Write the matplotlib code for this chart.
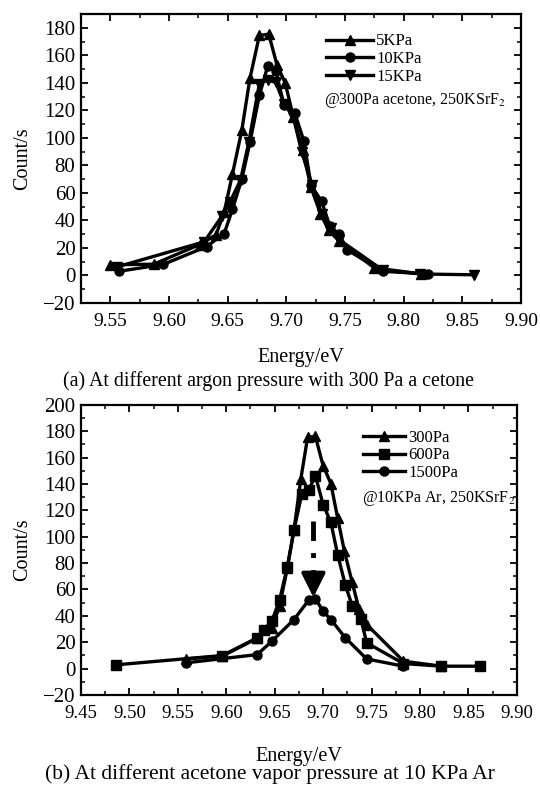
import numpy as np
import matplotlib
matplotlib.use("Agg")
import matplotlib.pyplot as plt
from matplotlib.ticker import MultipleLocator

plt.rcParams['font.family'] = ['Liberation Serif', 'DejaVu Serif']
plt.rcParams['mathtext.fontset'] = 'stix'

# (a) different argon pressure, 300 Pa acetone
x_5k = [9.550, 9.587, 9.626, 9.640, 9.647, 9.654, 9.662, 9.669, 9.677, 9.685,
        9.692, 9.699, 9.706, 9.714, 9.721, 9.729, 9.736, 9.745, 9.775, 9.815]
y_5k = [7.8, 8.2, 22.5, 29.5, 46, 73.5, 105.5, 143.5, 174.5, 175.5,
        153, 140, 115, 91, 64, 45, 33, 25, 5.5, 1.2]
x_10k = [9.557, 9.595, 9.632, 9.647, 9.654, 9.662, 9.669, 9.677, 9.684, 9.691,
         9.698, 9.707, 9.715, 9.721, 9.730, 9.737, 9.745, 9.752, 9.782, 9.821]
y_10k = [3, 8, 21, 30.5, 48, 70, 97, 131, 152, 148.5,
         124, 118.5, 97.5, 65.5, 54, 36, 30, 18.5, 3, 1.2]
x_15k = [9.556, 9.630, 9.645, 9.652, 9.661, 9.668, 9.677, 9.684, 9.691,
         9.698, 9.706, 9.713, 9.722, 9.730, 9.738, 9.745, 9.782, 9.814, 9.860]
y_15k = [6.3, 24.5, 43, 53.5, 69.5, 97, 139.5, 142, 140.5,
         125, 115, 90, 65.5, 45, 34.5, 26, 4, 1.1, 0.5]

# (b) different acetone pressure, 10 KPa Ar
x_300 = [9.558, 9.596, 9.632, 9.647, 9.655, 9.663, 9.670, 9.677, 9.684, 9.692,
         9.700, 9.708, 9.715, 9.722, 9.730, 9.737, 9.745, 9.783, 9.822]
y_300 = [7.3, 9.5, 23, 30.8, 47.3, 76, 105.4, 143.8, 175.4, 176.2,
         154, 140.3, 114.3, 89, 65.5, 45.3, 33.4, 5.6, 1.8]
x_600 = [9.486, 9.596, 9.632, 9.639, 9.647, 9.655, 9.663, 9.670, 9.678, 9.685,
         9.692, 9.700, 9.708, 9.715, 9.723, 9.730, 9.739, 9.745, 9.783, 9.822, 9.862]
y_600 = [2.8, 9.9, 23.3, 29.6, 35.9, 51.8, 76.9, 105.4, 132.5, 135.2,
         146.4, 124.4, 111, 86.5, 63.2, 47.8, 37.7, 19.5, 3.8, 1.8, 1.8]
x_1500 = [9.558, 9.632, 9.647, 9.670, 9.685, 9.692, 9.700, 9.708, 9.723, 9.745, 9.783]
y_1500 = [4.3, 10.6, 20.7, 37.2, 51.8, 53.1, 43.5, 37.2, 23.3, 7.3, 1.8]

arrow_x = 9.690
arrow_top, arrow_mid, arrow_tip = 112, 69, 54

fig = plt.figure(figsize=(5.4, 7.87), dpi=100)
ax1 = fig.add_axes([0.150, 0.615, 0.815, 0.367])
ax2 = fig.add_axes([0.150, 0.117, 0.807, 0.3685])

lw, ms = 2.4, 6.5
ax1.plot(x_5k, y_5k, 'k-', marker='^', lw=lw, ms=ms, label='5KPa')
ax1.plot(x_10k, y_10k, 'k-', marker='o', lw=lw, ms=ms, label='10KPa')
ax1.plot(x_15k, y_15k, 'k-', marker='v', lw=lw, ms=ms, label='15KPa')

ax2.plot(x_300, y_300, 'k-', marker='^', lw=lw, ms=ms, label='300Pa')
ax2.plot(x_600, y_600, 'k-', marker='s', lw=lw, ms=ms, label='600Pa')
ax2.plot(x_1500, y_1500, 'k-', marker='o', lw=lw, ms=ms, label='1500Pa')

# dash-dot arrow pointing at the 1500Pa peak
ax2.plot([arrow_x, arrow_x], [arrow_top, arrow_mid], color='k', lw=3.5,
         linestyle=(0, (4, 2.5, 1, 2.5)), dash_capstyle='butt')
ax2.annotate('', xy=(arrow_x, arrow_tip), xytext=(arrow_x, arrow_mid + 1),
             arrowprops=dict(arrowstyle='-|>', color='k', lw=3, mutation_scale=36,
                             shrinkA=0, shrinkB=0))

ax1.set_xlim(9.525, 9.90)
ax1.set_ylim(-20, 190)
ax2.set_xlim(9.45, 9.90)
ax2.set_ylim(-20, 200)

for ax in (ax1, ax2):
    ax.xaxis.set_major_locator(MultipleLocator(0.05))
    ax.xaxis.set_minor_locator(MultipleLocator(0.025))
    ax.yaxis.set_major_locator(MultipleLocator(20))
    ax.yaxis.set_minor_locator(MultipleLocator(10))
    ax.xaxis.set_major_formatter(matplotlib.ticker.FormatStrFormatter('%.2f'))
    ax.tick_params(which='both', direction='in', top=True, right=True, pad=4)
    ax.tick_params(axis='x', labelsize=14, pad=7)
    ax.tick_params(axis='y', labelsize=15)
    ax.tick_params(which='major', length=5, width=1.3)
    ax.tick_params(which='minor', length=3, width=1.1)
    for s in ax.spines.values():
        s.set_linewidth(1.6)
    ax.set_ylabel('Count/s', fontsize=14.5, labelpad=8)

ax1.set_xlabel('Energy/eV', fontsize=14.5, labelpad=13)
ax2.set_xlabel('Energy/eV', fontsize=14.5, labelpad=18)
ax2.tick_params(axis='x', labelsize=13.5)

ax1.legend(loc='upper left', bbox_to_anchor=(0.55, 0.945), frameon=False,
           fontsize=12, handlelength=2.8, handletextpad=0.2, labelspacing=0.1,
           borderaxespad=0, borderpad=0.2)
ax1.text(0.553, 0.702, '@300Pa acetone, 250KSrF$_2$', transform=ax1.transAxes,
         fontsize=11.5, ha='left', va='center')

ax2.legend(loc='upper left', bbox_to_anchor=(0.64, 0.926), frameon=False,
           fontsize=12, handlelength=2.5, handletextpad=0.2, labelspacing=0.1,
           borderaxespad=0, borderpad=0.2)
ax2.text(0.645, 0.676, '@10KPa Ar, 250KSrF$_2$', transform=ax2.transAxes,
         fontsize=11.5, ha='left', va='center')

fig.text(0.497, 1 - 381 / 787, '(a) At different argon pressure with 300 Pa a cetone',
         ha='center', va='center', fontsize=14.3)
fig.text(0.50, 1 - 774 / 787, '(b) At different acetone vapor pressure at 10 KPa Ar',
         ha='center', va='center', fontsize=15.5)

fig.savefig('out.png', dpi=100)
